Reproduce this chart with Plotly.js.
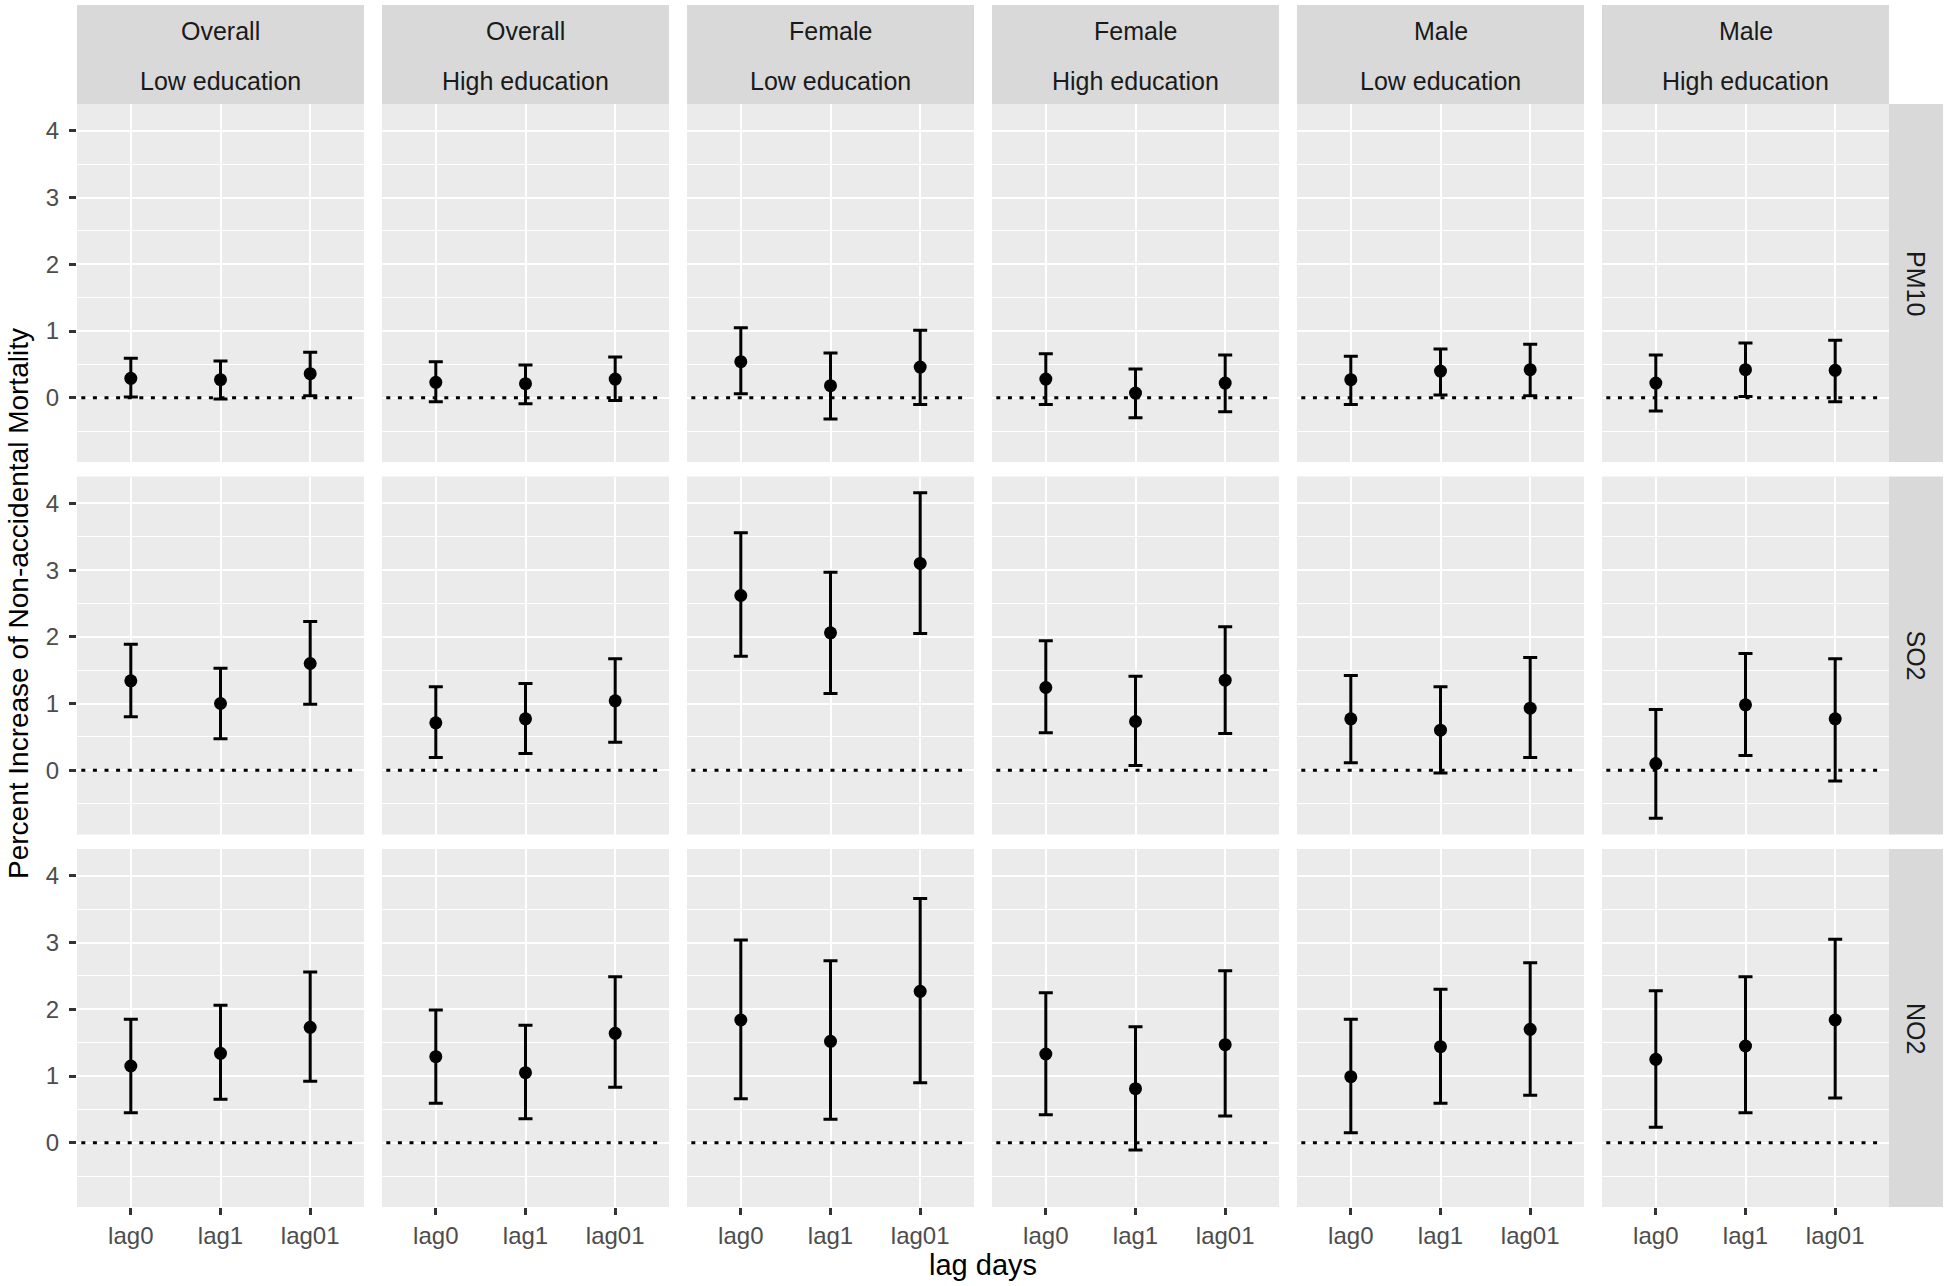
<!DOCTYPE html>
<html>
<head>
<meta charset="utf-8">
<script src="https://cdn.plot.ly/plotly-3.0.1.min.js"></script>
<style>html,body{margin:0;padding:0;background:#fff;}#chart{width:1946px;height:1286px;}</style>
</head>
<body>
<div id="chart"></div>
<script>
// ---------- data ----------
const lags = ['lag0', 'lag1', 'lag01'];
const sexLabels = ['Overall', 'Overall', 'Female', 'Female', 'Male', 'Male'];
const eduLabels = ['Low education', 'High education', 'Low education', 'High education', 'Low education', 'High education'];
const pollutants = ['PM10', 'SO2', 'NO2'];
const yTicks = [0, 1, 2, 3, 4];

// each inner array: lag0, lag1, lag01 ; one inner array per column group
const pm10Est = [[0.29,0.27,0.36],[0.23,0.21,0.28],[0.54,0.18,0.46],[0.28,0.07,0.22],[0.27,0.40,0.42],[0.22,0.42,0.41]];
const pm10Low = [[0.01,-0.02,0.03],[-0.06,-0.09,-0.04],[0.06,-0.32,-0.10],[-0.10,-0.30,-0.21],[-0.10,0.04,0.03],[-0.20,0.02,-0.06]];
const pm10Up  = [[0.59,0.55,0.68],[0.54,0.49,0.61],[1.05,0.67,1.01],[0.66,0.43,0.64],[0.62,0.73,0.80],[0.64,0.82,0.86]];

const so2Est = [[1.34,1.00,1.60],[0.71,0.77,1.04],[2.62,2.06,3.10],[1.24,0.73,1.35],[0.77,0.60,0.93],[0.10,0.98,0.77]];
const so2Low = [[0.80,0.47,0.99],[0.19,0.25,0.42],[1.71,1.15,2.05],[0.56,0.07,0.55],[0.11,-0.04,0.19],[-0.72,0.22,-0.16]];
const so2Up  = [[1.89,1.53,2.23],[1.25,1.30,1.67],[3.56,2.97,4.16],[1.94,1.41,2.15],[1.42,1.25,1.69],[0.91,1.75,1.67]];

const no2Est = [[1.15,1.34,1.73],[1.29,1.05,1.64],[1.84,1.52,2.27],[1.33,0.81,1.47],[0.99,1.44,1.70],[1.25,1.45,1.84]];
const no2Low = [[0.45,0.65,0.92],[0.59,0.36,0.83],[0.66,0.35,0.90],[0.42,-0.11,0.40],[0.15,0.59,0.71],[0.23,0.45,0.67]];
const no2Up  = [[1.85,2.06,2.56],[1.99,1.76,2.49],[3.04,2.73,3.66],[2.25,1.74,2.58],[1.85,2.30,2.70],[2.28,2.49,3.05]];

// ---------- layout geometry (pixels) ----------
const W = 1946, H = 1286;
const colLeft = [77, 382, 687, 992, 1297, 1602];
const colW = 287;
const rowTop = [104, 476.5, 849];
const rowH = 358;
const stripTop = 5;
const rightStripW = 54;
const yRange = [-0.964, 4.404];

const FONT = 'Liberation Sans, Arial, sans-serif';
const px = v => v / W;
const py = v => 1 - v / H;

const estRows = [pm10Est, so2Est, no2Est];
const lowRows = [pm10Low, so2Low, no2Low];
const upRows  = [pm10Up, so2Up, no2Up];

const traces = [];
const shapes = [];
const annotations = [];
const layout = {
  width: W, height: H,
  margin: {l: 0, r: 0, t: 0, b: 0},
  paper_bgcolor: '#FFFFFF',
  plot_bgcolor: '#EBEBEB',
  showlegend: false,
  font: {family: FONT, color: '#1A1A1A'}
};

for (let r = 0; r < 3; r++) {
  for (let c = 0; c < 6; c++) {
    const k = r * 6 + c + 1;
    const xa = 'xaxis' + (k === 1 ? '' : k);
    const ya = 'yaxis' + (k === 1 ? '' : k);
    const xr = 'x' + (k === 1 ? '' : k);
    const yr = 'y' + (k === 1 ? '' : k);
    const est = estRows[r][c], lo = lowRows[r][c], up = upRows[r][c];

    traces.push({
      type: 'scatter', mode: 'markers',
      x: lags, y: est,
      xaxis: xr, yaxis: yr,
      marker: {color: '#000000', size: 13},
      error_y: {
        type: 'data', symmetric: false,
        array: up.map((u, i) => u - est[i]),
        arrayminus: lo.map((l, i) => est[i] - l),
        color: '#000000', thickness: 3, width: 7
      },
      hoverinfo: 'x+y'
    });

    layout[xa] = {
      domain: [px(colLeft[c]), px(colLeft[c] + colW)],
      anchor: yr,
      type: 'category',
      categoryorder: 'array', categoryarray: lags,
      range: [-0.6, 2.6],
      showgrid: true, gridcolor: '#FFFFFF', gridwidth: 2,
      zeroline: false, showline: false,
      ticks: r === 2 ? 'outside' : '',
      ticklen: 7, tickwidth: 2.5, tickcolor: '#333333',
      showticklabels: r === 2,
      ticklabelstandoff: 0,
      tickfont: {family: FONT, size: 24, color: '#4D4D4D'},
      fixedrange: true
    };
    layout[ya] = {
      domain: [py(rowTop[r] + rowH), py(rowTop[r])],
      anchor: xr,
      range: yRange,
      tickvals: yTicks,
      showgrid: true, gridcolor: '#FFFFFF', gridwidth: 2.2,
      minor: {dtick: 0.5, tick0: 0.5, showgrid: true, gridcolor: '#FFFFFF', gridwidth: 1.1, ticks: ''},
      zeroline: false, showline: false,
      ticks: c === 0 ? 'outside' : '',
      ticklen: 7, tickwidth: 2.5, tickcolor: '#333333',
      showticklabels: c === 0,
      ticklabelstandoff: 5,
      tickfont: {family: FONT, size: 24, color: '#4D4D4D'},
      fixedrange: true
    };

    // dotted reference line at zero
    shapes.push({
      type: 'line', layer: 'above',
      xref: xr + ' domain', x0: 0.015, x1: 0.985,
      yref: yr, y0: 0, y1: 0,
      line: {color: '#000000', width: 3, dash: '4px,7.6px'}
    });
  }
}

// top strips
for (let c = 0; c < 6; c++) {
  shapes.push({
    type: 'rect', xref: 'paper', yref: 'paper', layer: 'above',
    x0: px(colLeft[c]), x1: px(colLeft[c] + colW),
    y0: py(rowTop[0]), y1: py(stripTop),
    fillcolor: '#D9D9D9', line: {width: 0}
  });
  const cx = px(colLeft[c] + colW / 2);
  annotations.push({
    xref: 'paper', yref: 'paper', x: cx, y: py(31), xanchor: 'center', yanchor: 'middle',
    text: sexLabels[c], showarrow: false, font: {family: FONT, size: 25, color: '#1A1A1A'}
  });
  annotations.push({
    xref: 'paper', yref: 'paper', x: cx, y: py(81), xanchor: 'center', yanchor: 'middle',
    text: eduLabels[c], showarrow: false, font: {family: FONT, size: 25, color: '#1A1A1A'}
  });
}

// right strips
const stripX0 = colLeft[5] + colW;
for (let r = 0; r < 3; r++) {
  shapes.push({
    type: 'rect', xref: 'paper', yref: 'paper', layer: 'above',
    x0: px(stripX0), x1: px(stripX0 + rightStripW),
    y0: py(rowTop[r] + rowH), y1: py(rowTop[r]),
    fillcolor: '#D9D9D9', line: {width: 0}
  });
  annotations.push({
    xref: 'paper', yref: 'paper',
    x: px(stripX0 + rightStripW / 2), y: py(rowTop[r] + rowH / 2),
    xanchor: 'center', yanchor: 'middle', textangle: 90,
    text: pollutants[r], showarrow: false, font: {family: FONT, size: 25, color: '#1A1A1A'}
  });
}

// axis titles
annotations.push({
  xref: 'paper', yref: 'paper', x: px(18), y: py(604),
  xanchor: 'center', yanchor: 'middle', textangle: -90,
  text: 'Percent Increase of Non-accidental Mortality', showarrow: false,
  font: {family: FONT, size: 28, color: '#000000'}
});
annotations.push({
  xref: 'paper', yref: 'paper', x: px(983), y: py(1265),
  xanchor: 'center', yanchor: 'middle',
  text: 'lag days', showarrow: false,
  font: {family: FONT, size: 29, color: '#000000'}
});

layout.shapes = shapes;
layout.annotations = annotations;

Plotly.newPlot('chart', traces, layout, {displayModeBar: false});
</script>
</body>
</html>
